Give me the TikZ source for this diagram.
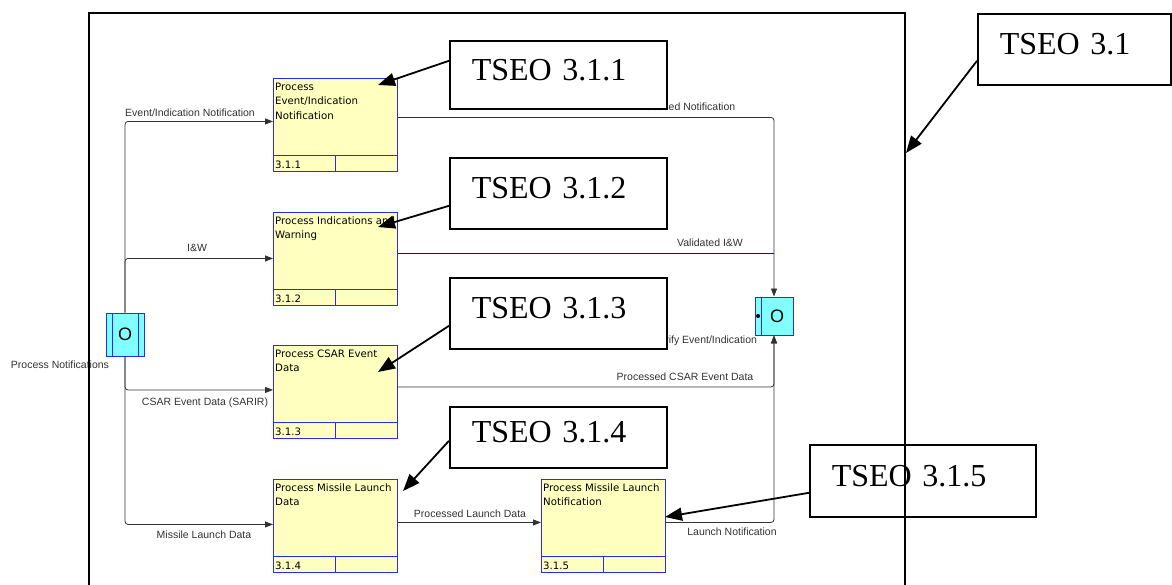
\documentclass[tikz,border=0pt]{standalone}
\usepackage{fontspec}
\setmainfont{Liberation Sans}
\newfontfamily\boxfont{DejaVu Sans}
\newfontfamily\calloutfont{Liberation Serif}
\usetikzlibrary{arrows.meta,calc}

\definecolor{procfill}{RGB}{255,255,192}
\definecolor{procedge}{RGB}{40,40,255}
\definecolor{storefill}{RGB}{128,255,255}
\definecolor{flowgray}{RGB}{50,50,50}

\tikzset{
  pbox/.style={draw=procedge, fill=procfill, line width=0.9pt, minimum width=124pt,
    minimum height=93pt, inner sep=0pt, anchor=north west},
  ptext/.style={font=\boxfont\fontsize{10.2}{14.5}\selectfont, align=left, inner sep=0pt, anchor=north west},
  pnum/.style={font=\boxfont\fontsize{10.2}{12}\selectfont, inner sep=0pt, anchor=west},
  pdiv/.style={draw=procedge, line width=0.9pt},
  store/.style={draw=procedge, fill=storefill, line width=0.9pt, minimum width=38pt,
    minimum height=#1, inner sep=0pt},
  storetext/.style={font=\fontsize{18}{20}\selectfont, inner sep=0pt},
  flow/.style={draw=flowgray, line width=0.8pt, rounded corners=3pt, -{Triangle[length=8pt,width=6pt]}},
  flowlabel/.style={font=\fontsize{10.5}{12}\selectfont, text=flowgray, inner sep=0pt},
  tbox/.style={draw, fill=white, line width=1.6pt, anchor=north west, minimum height=#1,
    font=\calloutfont\fontsize{32}{36}\selectfont, text depth=10pt, align=left, inner xsep=22pt},
  callout/.style={line width=1.8pt, -{Triangle[length=17pt,width=13pt]}},
}

% process box: name, top-left corner, title, number
\newcommand\procbox[4]{%
  \node[pbox] (#1) at (#2) {};
  \node[ptext] (#1t) at ([xshift=2pt,yshift=-4.5pt]#1.north west) {#3};
  \draw[pdiv] ([yshift=16pt]#1.south west) -- ([yshift=16pt]#1.south east);
  \draw[pdiv] ([xshift=62pt]#1.south west) -- ([xshift=62pt,yshift=16pt]#1.south west);
  \node[pnum] (#1n) at ([xshift=2pt,yshift=7.5pt]#1.south west) {#4};
}

\begin{document}
\begin{tikzpicture}[x=1pt,y=-1pt]
\useasboundingbox (0,0) rectangle (1172,585);

% flow labels
\node[flowlabel] (l1) at (190,113) {Event/Indication Notification};
\node[flowlabel] (l2) at (197,248) {I\&W};
\node[flowlabel] (l3) at (205,403) {CSAR Event Data (SARIR)};
\node[flowlabel] (l4) at (204,535) {Missile Launch Data};
\node[flowlabel] (l5) at (60,365) {Process Notifications};
\node[flowlabel] (r1) at (683,107) {Processed Notification};
\node[flowlabel] (r2) at (710,243) {Validated I\&W};
\node[flowlabel] (r3) at (705,341) {Verify Event/Indication};
\node[flowlabel] (r4) at (685,377) {Processed CSAR Event Data};
\node[flowlabel] (r5) at (470,514) {Processed Launch Data};
\node[flowlabel] (r6) at (732,532) {Launch Notification};

% processes
\procbox{b1}{273,78}{Process\\Event/Indication\\Notification}{3.1.1}
\procbox{b2}{273,212}{Process Indications and\\Warning}{3.1.2}
\procbox{b3}{273,345}{Process CSAR Event\\Data}{3.1.3}
\procbox{b4}{273,479}{Process Missile Launch\\Data}{3.1.4}
\procbox{b5}{541,479}{Process Missile Launch\\Notification}{3.1.5}

% OR junctions
\node[store=43pt] (lo) at (125,334.5) {};
\draw[pdiv] ([xshift=7pt]lo.south west) -- ([xshift=7pt]lo.north west);
\draw[pdiv] ([xshift=-6pt]lo.south east) -- ([xshift=-6pt]lo.north east);
\node[storetext] (lot) at (lo.center) {O};

\node[store=38pt] (ro) at (774,316) {};
\draw[pdiv] ([xshift=7pt]ro.south west) -- ([xshift=7pt]ro.north west);
\node[storetext] (rot) at ([xshift=3pt]ro.center) {O};
\node[circle, fill, inner sep=0pt, minimum size=4pt] (rodot) at ([xshift=3.5pt]ro.west) {};

% flows out of the left junction
\draw[flow] (lo.north) |- ([yshift=3.5pt]b1.west);
\draw[flow] (lo.north) |- ([yshift=0.5pt]b2.west);
\draw[flow] (lo.south) |- ([yshift=2pt]b3.west);
\draw[flow] (lo.south) |- ([yshift=1.5pt]b4.west);

% flows into the right junction
\draw[flow] ([yshift=7.5pt]b1.east) -| (ro.north);
\coordinate (v2) at ([yshift=5.5pt]b2.east);
\draw[draw=blue, line width=0.8pt] (v2) -- (v2 -| ro.north);
\draw[flow] ([yshift=5pt]b3.east) -| (ro.south);
\draw[flow] ([yshift=3.5pt]b4.east) -- ([yshift=3.5pt]b5.west);
\draw[flow] ([yshift=3.5pt]b5.east) -| (ro.south);

% callouts
\node[tbox=68pt, text width=173pt] (t1) at (449,40) {TSEO 3.1.1};
\node[tbox=71pt, text width=173pt] (t2) at (449,157) {TSEO 3.1.2};
\node[tbox=71pt, text width=173pt] (t3) at (449,277) {TSEO 3.1.3};
\node[tbox=61pt, text width=173pt] (t4) at (449,406) {TSEO 3.1.4};
\node[tbox=72pt, text width=182pt] (t5) at (809,444) {TSEO 3.1.5};
\node[tbox=71pt, text width=149pt] (t0) at (977,13) {TSEO 3.1};

\coordinate (p1) at (378,85);
\coordinate (p2) at (378,227);
\coordinate (p3) at (378,372);
\coordinate (p4) at (403,491);
\coordinate (p5) at (665,517);
\coordinate (p0) at (906,153);
\draw[callout] ([yshift=14pt]t1.west) -- (p1);
\draw[callout] ([yshift=-12.5pt]t2.west) -- (p2);
\draw[callout] ([yshift=-12.5pt]t3.west) -- (p3);
\draw[callout] ([yshift=-3.5pt]t4.west) -- (p4);
\draw[callout] ([yshift=-12pt]t5.west) -- (p5);
\draw[callout] ([yshift=-11.5pt]t0.west) -- (p0);

% diagram frame
\draw[line width=1.7pt] (89,585) -- (89,13) -- (905,13) -- (905,585);
\end{tikzpicture}
\end{document}
